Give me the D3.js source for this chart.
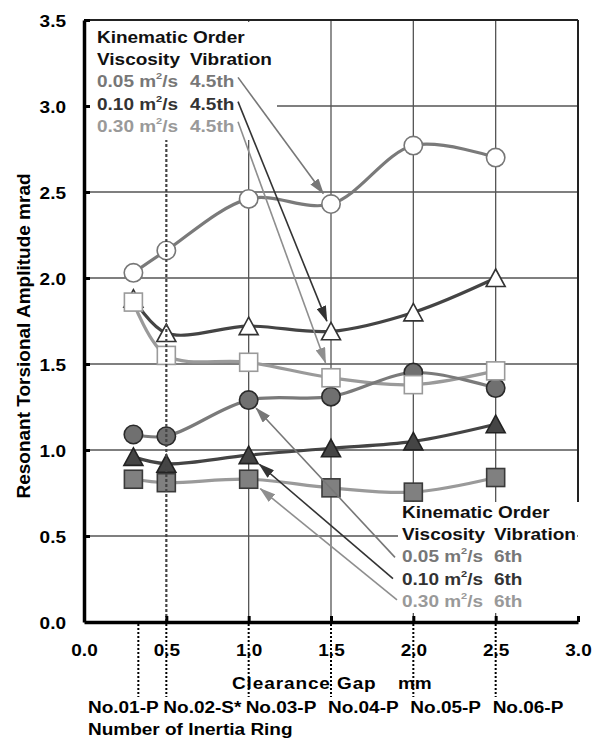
<!DOCTYPE html>
<html><head><meta charset="utf-8">
<script src="https://cdn.jsdelivr.net/npm/d3@7/dist/d3.min.js"></script>
<style>html,body{margin:0;padding:0;background:#fff;}svg{display:block;}</style>
</head><body>
<svg id="chart" width="600" height="740"></svg>
<script>
// ---------- data ----------
const gapValues   = [0.3, 0.5, 1.0, 1.5, 2.0, 2.5];       // clearance gap (mm) of measured points
const ringGaps    = [0.33, 0.5, 1.0, 1.5, 2.0, 2.5];       // position of each inertia-ring drop line
const ringLabels  = ["No.01-P", "No.02-S*", "No.03-P", "No.04-P", "No.05-P", "No.06-P"];
const viscosities = ["0.05", "0.10", "0.30"];
// 4.5th order (open markers)
const open005 = [2.03, 2.16, 2.46, 2.43, 2.77, 2.70];
const open010 = [1.88, 1.68, 1.72, 1.69, 1.80, 2.00];
const open030 = [1.86, 1.55, 1.51, 1.42, 1.38, 1.46];
// 6th order (filled markers)
const fill005 = [1.09, 1.08, 1.29, 1.31, 1.45, 1.36];
const fill010 = [0.96, 0.92, 0.97, 1.01, 1.05, 1.15];
const fill030 = [0.83, 0.81, 0.83, 0.78, 0.755, 0.84];
const yTicks = [0, 0.5, 1.0, 1.5, 2.0, 2.5, 3.0, 3.5];
const xTicks = [0, 0.5, 1.0, 1.5, 2.0, 2.5, 3.0];

// ---------- setup ----------
const FONT = '"Liberation Sans", Arial, Helvetica, sans-serif';
const FS = 19, VS = 0.88;
const svg = d3.select("#chart");
const x = d3.scaleLinear().domain([0, 3]).range([84, 578]);
const y = d3.scaleLinear().domain([0, 3.5]).range([622, 20]);

function txt(parent, px, py, str, color, anchor, extra) {
  const t = parent.append("text")
    .attr("transform", `translate(${px},${py}) scale(1,${VS})`)
    .attr("font-family", FONT).attr("font-weight", "bold")
    .attr("font-size", FS).attr("fill", color || "#000")
    .attr("text-anchor", anchor || "start").text(str);
  if (extra) extra(t);
  return t;
}
function viscText(parent, px, py, v, order, color, col2) {
  const t = parent.append("text")
    .attr("transform", `translate(${px},${py}) scale(1,${VS})`)
    .attr("font-family", FONT).attr("font-weight", "bold")
    .attr("font-size", FS).attr("fill", color);
  t.append("tspan").text(v + " m");
  t.append("tspan").attr("font-size", 11).attr("dy", -9).text("2");
  t.append("tspan").attr("dy", 9).text("/s");
  t.append("tspan").attr("x", col2 - px).text(order);
}

// ---------- grid ----------
const grid = svg.append("g").attr("stroke", "#555").attr("stroke-width", 1.3);
grid.selectAll("line.h").data(yTicks.filter(d => d > 0 && d < 3.5)).join("line")
  .attr("x1", x(0)).attr("x2", x(3)).attr("y1", d => y(d)).attr("y2", d => y(d));
grid.selectAll("line.v").data(xTicks.filter(d => d >= 1 && d < 3)).join("line")
  .attr("y1", y(0)).attr("y2", y(3.5)).attr("x1", d => x(d)).attr("x2", d => x(d));

// ---------- series ----------
const series = [
  {vals: open030, shape: "sq",  fill: "#fff",    stroke: "#9a9a9a", line: "#9a9a9a"},
  {vals: open010, shape: "tri", fill: "#fff",    stroke: "#333",    line: "#444"},
  {vals: open005, shape: "cir", fill: "#fff",    stroke: "#777",    line: "#7a7a7a"},
  {vals: fill030, shape: "sq",  fill: "#808080", stroke: "#3a3a3a", line: "#9a9a9a"},
  {vals: fill010, shape: "tri", fill: "#454545", stroke: "#222",    line: "#444"},
  {vals: fill005, shape: "cir", fill: "#707070", stroke: "#2a2a2a", line: "#7a7a7a"},
];
const lineGen = d3.line().x((d, i) => x(gapValues[i])).y(d => y(d))
  .curve(d3.curveCatmullRom.alpha(0.5));
const linesG = svg.append("g");
series.forEach(s => {
  linesG.append("path").attr("d", lineGen(s.vals)).attr("fill", "none")
    .attr("stroke", s.line).attr("stroke-width", 3.2);
});
function drawMarker(g, shape, cx, cy, fill, stroke) {
  if (shape === "cir") {
    g.append("circle").attr("cx", cx).attr("cy", cy).attr("r", 9.2)
      .attr("fill", fill).attr("stroke", stroke).attr("stroke-width", 1.6);
  } else if (shape === "sq") {
    g.append("rect").attr("x", cx - 9).attr("y", cy - 9).attr("width", 18).attr("height", 18)
      .attr("fill", fill).attr("stroke", stroke).attr("stroke-width", 1.6);
  } else {
    g.append("path").attr("d", `M${cx},${cy - 9}L${cx + 9.5},${cy + 8.5}L${cx - 9.5},${cy + 8.5}Z`)
      .attr("fill", fill).attr("stroke", stroke).attr("stroke-width", 1.6);
  }
}
const markG = svg.append("g");
[4, 3, 5, 1, 0, 2].forEach(k => {
  const s = series[k];
  s.vals.forEach((v, i) => drawMarker(markG, s.shape, x(gapValues[i]), y(v), s.fill, s.stroke));
});

// dashed line at 0.5 (inside plot)
svg.append("line").attr("x1", x(0.5)).attr("x2", x(0.5)).attr("y1", y(0)).attr("y2", 140)
  .attr("stroke", "#444").attr("stroke-width", 2.2).attr("stroke-dasharray", "3,2");

// ---------- legends ----------
const legTop = {x: 97, col2: 190, y0: 43, dy: 22.2};
const legBot = {x: 402, col2: 494, y0: 518, dy: 22.2};
svg.append("rect").attr("x", 88).attr("y", 22).attr("width", 189).attr("height", 118).attr("fill", "#fff");
svg.append("rect").attr("x", 398).attr("y", 502).attr("width", 179).attr("height", 111).attr("fill", "#fff");

const colors = ["#777777", "#333333", "#999999"];
[legTop, legBot].forEach((L, li) => {
  const g = svg.append("g");
  txt(g, L.x, L.y0, "Kinematic Order", "#111");
  const t = txt(g, L.x, L.y0 + L.dy, "", "#111");
  t.append("tspan").text("Viscosity");
  t.append("tspan").attr("x", L.col2 - L.x).text("Vibration");
  viscosities.forEach((v, i) => {
    viscText(g, L.x, L.y0 + L.dy * (i + 2), v, li === 0 ? "4.5th" : "6th", colors[i], L.col2);
  });
});

// ---------- arrows ----------
const defs = svg.append("defs");
const arrowColors = {a005: "#777777", a010: "#333333", a030: "#8e8e8e"};
Object.entries(arrowColors).forEach(([id, col]) => {
  defs.append("marker").attr("id", id).attr("markerUnits", "userSpaceOnUse")
    .attr("markerWidth", 16).attr("markerHeight", 10).attr("refX", 15).attr("refY", 5)
    .attr("orient", "auto")
    .append("path").attr("d", "M0,0L16,5L0,10Z").attr("fill", col);
});
const arrows = [
  {from: [legTop.x + 141, legTop.y0 + legTop.dy * 2 - 10], vals: open005, idx: 3, id: "a005", back: 13},
  {from: [legTop.x + 141, legTop.y0 + legTop.dy * 3 - 8],  vals: open010, idx: 3, id: "a010", back: 11},
  {from: [legTop.x + 141, legTop.y0 + legTop.dy * 4 - 10], vals: open030, idx: 3, id: "a030", back: 16},
  {from: [legBot.x - 7, legBot.y0 + legBot.dy * 2 - 5], vals: fill005, idx: 2, id: "a005", back: 11},
  {from: [legBot.x - 9, legBot.y0 + legBot.dy * 3 - 6], vals: fill010, idx: 2, id: "a010", back: 14},
  {from: [legBot.x - 5, legBot.y0 + legBot.dy * 4 - 7], vals: fill030, idx: 2, id: "a030", back: 15},
];
arrows.forEach(a => {
  const tx = x(gapValues[a.idx]), ty = y(a.vals[a.idx]);
  const dx = tx - a.from[0], dy = ty - a.from[1], L = Math.hypot(dx, dy);
  const ex = tx - dx / L * a.back, ey = ty - dy / L * a.back;
  svg.append("line").attr("x1", a.from[0]).attr("y1", a.from[1]).attr("x2", ex).attr("y2", ey)
    .attr("stroke", arrowColors[a.id]).attr("stroke-width", 1.6)
    .attr("marker-end", `url(#${a.id})`);
});

// ---------- frame and axes ----------
svg.append("line").attr("x1", x(0)).attr("x2", x(3)).attr("y1", y(3.5)).attr("y2", y(3.5))
  .attr("stroke", "#222").attr("stroke-width", 2);
svg.append("line").attr("x1", x(3)).attr("x2", x(3)).attr("y1", y(3.5)).attr("y2", 502)
  .attr("stroke", "#222").attr("stroke-width", 2);

const yAxis = svg.append("g").attr("transform", `translate(${x(0)},0)`)
  .call(d3.axisLeft(y).tickValues(yTicks).tickSizeInner(-6).tickSizeOuter(0)
        .tickPadding(18).tickFormat(d3.format(".1f")));
const xAxis = svg.append("g").attr("transform", `translate(0,${y(0)})`)
  .call(d3.axisBottom(x).tickValues(xTicks).tickSizeInner(-6).tickSizeOuter(0)
        .tickPadding(0).tickFormat(d3.format(".1f")));
[yAxis, xAxis].forEach(ax => {
  ax.attr("font-size", null).attr("font-family", null);
  ax.select(".domain").attr("stroke", "#000").attr("stroke-width", 3.5);
  ax.selectAll(".tick line").attr("stroke", "#000").attr("stroke-width", 3);
  ax.selectAll(".tick text").attr("font-family", FONT).attr("font-weight", "bold")
    .attr("font-size", FS).attr("fill", "#000");
});
yAxis.selectAll(".tick text").attr("dy", null).attr("y", 0)
  .attr("transform", `translate(0,6) scale(1,${VS})`);
xAxis.selectAll(".tick text").attr("dy", null).attr("y", 0)
  .attr("transform", `translate(0,34) scale(1,${VS})`);
xAxis.selectAll(".tick").filter(d => d === 0).select("line").remove();
yAxis.selectAll(".tick").filter(d => d === 0).select("line").remove();

// drop lines under the axis for each inertia ring
svg.append("g").selectAll("line").data(ringGaps).join("line")
  .attr("x1", d => x(d)).attr("x2", d => x(d)).attr("y1", y(0) + 2).attr("y2", 697)
  .attr("stroke", "#000").attr("stroke-width", 2).attr("stroke-dasharray", "2,2");

// axis titles
txt(svg, 232, 689, "Clearance Gap", "#000", "start", t => t.attr("letter-spacing", 0.9));
txt(svg, 398, 689, "mm", "#000");
ringLabels.forEach((lab, i) => {
  const px = i === 0 ? x(0) + 4 : x(ringGaps[i]) - 3;
  txt(svg, px, 713, lab, "#000");
});
txt(svg, 88, 735, "Number of Inertia Ring", "#000");

svg.append("text").attr("transform", "translate(30,336) rotate(-90)")
  .attr("text-anchor", "middle").attr("font-family", FONT).attr("font-weight", "bold")
  .attr("font-size", 19).attr("fill", "#000")
  .text("Resonant Torsional Amplitude mrad");
</script>
</body></html>
